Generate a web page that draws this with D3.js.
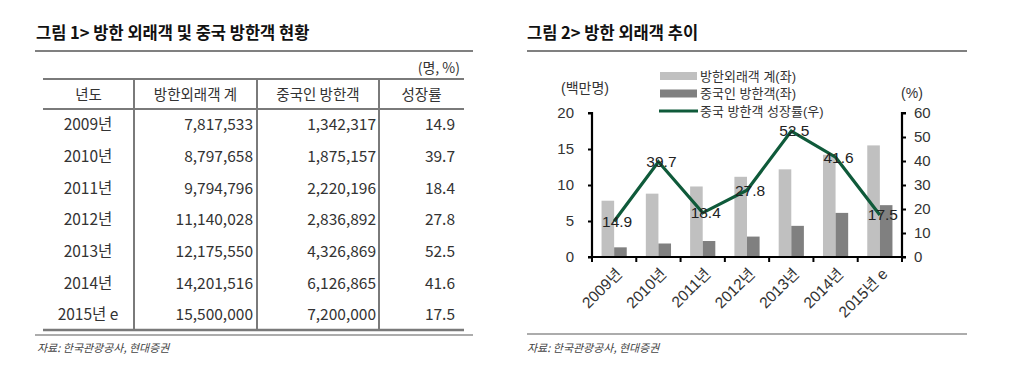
<!DOCTYPE html>
<html><head><meta charset="utf-8">
<script src="https://cdn.jsdelivr.net/npm/d3@7"></script>
<style>
body{margin:0;background:#fff;}
svg{display:block;}
</style></head>
<body><svg id="c" width="1024" height="368"></svg>
<script>
const years = ["2009년","2010년","2011년","2012년","2013년","2014년","2015년 e"];
const totalVisitors = [7817533, 8797658, 9794796, 11140028, 12175550, 14201516, 15500000];
const chinaVisitors = [1342317, 1875157, 2220196, 2836892, 4326869, 6126865, 7200000];
const growth = [14.9, 39.7, 18.4, 27.8, 52.5, 41.6, 17.5];
const headers = ["년도","방한외래객 계","중국인 방한객","성장률"];
const leftTicks = [0,5,10,15,20];
const rightTicks = [0,10,20,30,40,50,60];
const legendLabels = ["방한외래객 계(좌)","중국인 방한객(좌)","중국 방한객 성장률(우)"];

const svg = d3.select("#c");
const KR = "'Noto Sans CJK KR', sans-serif";
const AR = "'Liberation Sans', Arial, 'Noto Sans CJK KR', sans-serif";
const fmt = d3.format(",");

/* ---------- Figure 1: table ---------- */
svg.append("text").attr("x",36).attr("y",39).attr("font-family",KR).attr("font-weight",700)
  .attr("font-size",16.5).attr("fill","#111").text("그림 1> 방한 외래객 및 중국 방한객 현황");
svg.append("line").attr("x1",35).attr("x2",473).attr("y1",51).attr("y2",51).attr("stroke","#808080").attr("stroke-width",2);
svg.append("text").attr("x",460).attr("y",68).attr("dy","0.35em").attr("text-anchor","end")
  .attr("font-family",KR).attr("font-size",14).attr("fill","#333").text("(명, %)");

const colEdges = [43,134,257,379,464];
const tTop = 79, tHead = 109, tBot = 330;
const rowY = d3.scaleLinear().domain([0,6]).range([125,315]);
const g1 = svg.append("g");
[tTop,tHead].forEach(y=>g1.append("line").attr("x1",43).attr("x2",464).attr("y1",y).attr("y2",y).attr("stroke","#7a7a7a").attr("stroke-width",2.2));
g1.append("line").attr("x1",43).attr("x2",464).attr("y1",tBot).attr("y2",tBot).attr("stroke","#7a7a7a").attr("stroke-width",2.5);
[1,2,3].forEach(i=>g1.append("line").attr("x1",colEdges[i]).attr("x2",colEdges[i]).attr("y1",tTop).attr("y2",tBot).attr("stroke","#7a7a7a").attr("stroke-width",2));
svg.append("line").attr("x1",35).attr("x2",473).attr("y1",335).attr("y2",335).attr("stroke","#909090").attr("stroke-width",1.5);

headers.forEach((h,i)=>{
  g1.append("text").attr("x",(colEdges[i]+colEdges[i+1])/2).attr("y",95).attr("dy","0.35em")
    .attr("text-anchor","middle").attr("font-family",KR).attr("font-size",14.5).attr("fill","#333").text(h);
});
years.forEach((yr,i)=>{
  const y = rowY(i);
  const cells = [[88,"middle",yr],[253,"end",fmt(totalVisitors[i])],[376,"end",fmt(chinaVisitors[i])],[455,"end",growth[i].toFixed(1)]];
  cells.forEach(([x,a,t])=>g1.append("text").attr("x",x).attr("y",y).attr("dy","0.35em").attr("text-anchor",a)
    .attr("font-family",KR).attr("font-size",15.5).attr("fill","#333").text(t));
});
svg.append("text").attr("x",37).attr("y",352).attr("font-family",KR).attr("font-style","italic")
  .attr("font-size",11).attr("fill","#444").text("자료: 한국관광공사, 현대증권");

/* ---------- Figure 2: chart ---------- */
svg.append("text").attr("x",527).attr("y",39).attr("font-family",KR).attr("font-weight",700)
  .attr("font-size",16.5).attr("fill","#111").text("그림 2> 방한 외래객 추이");
svg.append("line").attr("x1",527).attr("x2",967).attr("y1",51).attr("y2",51).attr("stroke","#808080").attr("stroke-width",2);
svg.append("line").attr("x1",527).attr("x2",967).attr("y1",334).attr("y2",334).attr("stroke","#909090").attr("stroke-width",1.5);
svg.append("text").attr("x",527).attr("y",352).attr("font-family",KR).attr("font-style","italic")
  .attr("font-size",11).attr("fill","#444").text("자료: 한국관광공사, 현대증권");

const L=592, R=902, T=113, B=257;
const x = d3.scaleBand().domain(years).range([L,R]).paddingInner(0).paddingOuter(0);
const yL = d3.scaleLinear().domain([0,20]).range([B,T]);
const yR = d3.scaleLinear().domain([0,60]).range([B,T]);
const bw = 12.6;

const gc = svg.append("g");
gc.selectAll("rect.tot").data(years).join("rect").attr("class","tot")
  .attr("x",d=>x(d)+x.bandwidth()/2-bw).attr("width",bw)
  .attr("y",(d,i)=>yL(totalVisitors[i]/1e6)).attr("height",(d,i)=>B-yL(totalVisitors[i]/1e6))
  .attr("fill","#c0c0c0");
gc.selectAll("rect.chn").data(years).join("rect").attr("class","chn")
  .attr("x",d=>x(d)+x.bandwidth()/2).attr("width",bw)
  .attr("y",(d,i)=>yL(chinaVisitors[i]/1e6)).attr("height",(d,i)=>B-yL(chinaVisitors[i]/1e6))
  .attr("fill","#808080");

// axes
const axL = d3.axisLeft(yL).tickValues(leftTicks).tickSize(4).tickPadding(14);
const axR = d3.axisRight(yR).tickValues(rightTicks).tickSize(4).tickPadding(8);
const axB = d3.axisBottom(x).tickValues([]).tickSize(0);
function styleAxis(g){
  g.select(".domain").attr("stroke","#000").attr("stroke-width",2.2);
  g.selectAll(".tick line").attr("stroke","#000").attr("stroke-width",2);
  g.selectAll(".tick text").attr("font-family",AR).attr("font-size",15).attr("fill","#333");
}
const gL = svg.append("g").attr("transform",`translate(${L},0)`).call(axL);
gL.select(".domain").attr("d",`M-4,${T}H0V${B}H-4`);
styleAxis(gL);
const gR = svg.append("g").attr("transform",`translate(${R},0)`).call(axR);
gR.select(".domain").attr("d",`M4,${T}H0V${B}H4`);
styleAxis(gR);
const gB = svg.append("g").attr("transform",`translate(0,${B})`).call(axB);
gB.select(".domain").attr("d",`M${L},0H${R}`);
styleAxis(gB);
// category boundary ticks
const bounds = years.map(d=>x(d)).concat([R]);
gB.selectAll("line.bt").data(bounds).join("line").attr("class","bt")
  .attr("x1",d=>d).attr("x2",d=>d).attr("y1",0).attr("y2",5).attr("stroke","#000").attr("stroke-width",2);
// rotated x labels
gB.selectAll("text.xl").data(years).join("text").attr("class","xl")
  .attr("transform",d=>`translate(${x(d)+x.bandwidth()/2+5},${14}) rotate(-45)`)
  .attr("text-anchor","end").attr("dy","0.35em")
  .attr("font-family",AR).attr("font-size",15.5).attr("fill","#333").text(d=>d);

// line
const line = d3.line().x((d,i)=>x(years[i])+x.bandwidth()/2).y(d=>yR(d));
gc.append("path").datum(growth).attr("d",line).attr("fill","none")
  .attr("stroke","#0f5a3a").attr("stroke-width",3.2).attr("stroke-linejoin","miter");
gc.selectAll("text.lbl").data(growth).join("text").attr("class","lbl")
  .attr("x",(d,i)=>x(years[i])+x.bandwidth()/2+3).attr("y",d=>yR(d)).attr("dy","0.35em")
  .attr("text-anchor","middle").attr("font-family",AR).attr("font-size",15.5).attr("fill","#222")
  .text(d=>d.toFixed(1));

// axis unit labels
svg.append("text").attr("x",585).attr("y",88).attr("dy","0.35em").attr("text-anchor","middle")
  .attr("font-family",AR).attr("font-size",14).attr("fill","#333").text("(백만명)");
svg.append("text").attr("x",912).attr("y",93).attr("dy","0.35em").attr("text-anchor","middle")
  .attr("font-family",AR).attr("font-size",14).attr("fill","#333").text("(%)");

// legend
const leg = svg.append("g");
const legY = d3.scaleLinear().domain([0,2]).range([76,111]);
leg.append("rect").attr("x",660).attr("y",legY(0)-4).attr("width",37).attr("height",8).attr("fill","#c0c0c0");
leg.append("rect").attr("x",660).attr("y",legY(1)-4).attr("width",37).attr("height",8).attr("fill","#808080");
leg.append("line").attr("x1",659).attr("x2",698).attr("y1",legY(2)).attr("y2",legY(2)).attr("stroke","#0f5a3a").attr("stroke-width",3.2);
legendLabels.forEach((t,i)=>leg.append("text").attr("x",700).attr("y",legY(i)).attr("dy","0.35em")
  .attr("font-family",AR).attr("font-size",13).attr("fill","#333").text(t));
</script></body></html>
